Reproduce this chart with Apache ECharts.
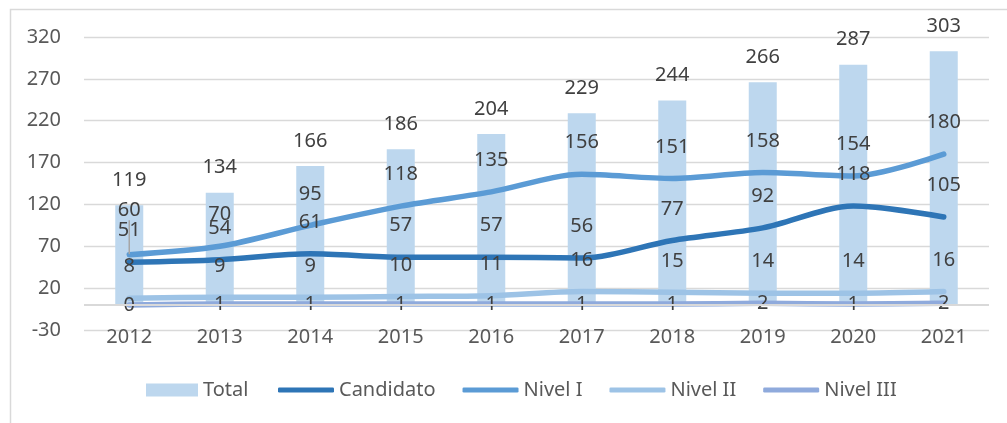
<!DOCTYPE html>
<html>
<head>
<meta charset="utf-8">
<script src="https://cdn.jsdelivr.net/npm/echarts@6/dist/echarts.min.js"></script>
<style>
  html, body { margin: 0; padding: 0; background: #fff; }
  #chart { width: 1007px; height: 423px; }
</style>
</head>
<body>
<div id="chart"></div>
<script>
// values
var years = ["2012", "2013", "2014", "2015", "2016", "2017", "2018", "2019", "2020", "2021"];
var total = [119, 134, 166, 186, 204, 229, 244, 266, 287, 303];
var candidato = [51, 54, 61, 57, 57, 56, 77, 92, 118, 105];
var nivel1 = [60, 70, 95, 118, 135, 156, 151, 158, 154, 180];
var nivel2 = [8, 9, 9, 10, 11, 16, 15, 14, 14, 16];
var nivel3 = [0, 1, 1, 1, 1, 1, 1, 2, 1, 2];

var font = "Noto Sans";
var labelColor = "#404040";

function lineSeries(name, values, color, labelPos) {
  return {
    name: name,
    type: "line",
    data: values,
    smooth: 0.3,
    symbol: "circle",
    symbolSize: 1,
    showSymbol: true,
    z: 3,
    itemStyle: { color: color },
    lineStyle: { color: color, width: 5.5, cap: "round", join: "round" },
    label: {
      show: true,
      position: labelPos,
      distance: 21,
      color: labelColor,
      fontFamily: font,
      fontSize: 20
    }
  };
}

var chart = echarts.init(document.getElementById("chart"));

// only the moved 2012 label keeps a visible leader line
var s1 = lineSeries("Nivel I", nivel1.map(function (v, i) {
  return i === 0 ? { value: v } : { value: v, labelLine: { lineStyle: { opacity: 0 } } };
}), "#5b9bd5", "top");
s1.labelLayout = function (p) {
  return p.dataIndex === 0 ? { dy: -13 } : {};
};
s1.labelLine = { show: true, lineStyle: { color: "#a6a6a6", width: 1.5 } };

var legendText = { color: "#595959", fontFamily: font, fontSize: 20 };

chart.setOption({
  animation: false,
  textStyle: { fontFamily: font },
  graphic: [
    {
      type: "rect",
      left: 8,
      top: 7,
      shape: { width: 1010, height: 430 },
      style: { fill: "none", stroke: "#d9d9d9", lineWidth: 1.5 },
      silent: true
    }
  ],
  grid: { left: 84, right: 18, top: 37, bottom: 93 },
  legend: [
    {
      data: ["Total"],
      left: 146,
      top: 380,
      padding: 0,
      itemWidth: 52,
      itemHeight: 13,
      icon: "rect",
      textStyle: legendText
    },
    {
      data: ["Candidato", "Nivel I", "Nivel II", "Nivel III"],
      left: 278,
      top: 380,
      padding: 0,
      itemWidth: 56,
      itemHeight: 5,
      itemGap: 27,
      icon: "roundRect",
      textStyle: legendText
    }
  ],
  xAxis: {
    type: "category",
    data: years,
    axisLine: { show: false, onZero: false },
    axisTick: { show: false },
    axisLabel: { color: "#595959", fontFamily: font, fontSize: 20, margin: -3 }
  },
  yAxis: {
    type: "value",
    min: -30,
    max: 320,
    interval: 50,
    axisLine: { show: false },
    axisTick: { show: false },
    axisLabel: { color: "#595959", fontFamily: font, fontSize: 20, margin: 23 },
    splitLine: { lineStyle: { color: "#d9d9d9", width: 1.3 } }
  },
  series: [
    {
      name: "Total",
      type: "bar",
      data: total,
      barWidth: 28,
      z: 1,
      itemStyle: { color: "#bdd7ee" },
      label: {
        show: true,
        position: "top",
        distance: 15,
        color: labelColor,
        fontFamily: font,
        fontSize: 20
      },
      markLine: {
        silent: true,
        symbol: "none",
        label: { show: false },
        lineStyle: { color: "#d9d9d9", type: "solid", width: 1.8 },
        data: [{ yAxis: 0 }]
      }
    },
    lineSeries("Candidato", candidato, "#2e75b6", "top"),
    s1,
    lineSeries("Nivel II", nivel2, "#9dc3e6", "top"),
    lineSeries("Nivel III", nivel3, "#8faadc", "inside")
  ]
});
</script>
</body>
</html>
